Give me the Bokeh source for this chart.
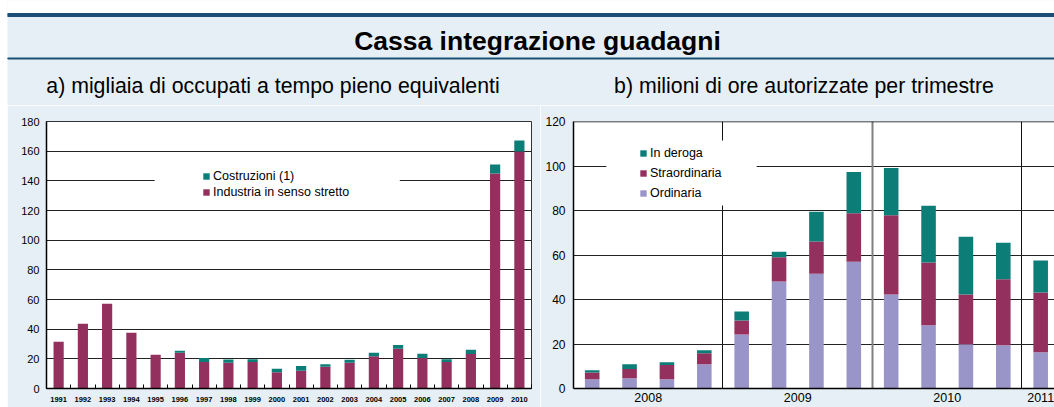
from bokeh.plotting import figure
from bokeh.layouts import column, row
from bokeh.models import (Range1d, FixedTicker, Legend, LegendItem, BoxAnnotation,
                          Grid, Span, ColumnDataSource, Spacer)
from bokeh.core.properties import value
from bokeh.embed import file_html
from bokeh.resources import INLINE

# ---------------- data ----------------
years = ["1991", "1992", "1993", "1994", "1995", "1996", "1997", "1998", "1999", "2000",
         "2001", "2002", "2003", "2004", "2005", "2006", "2007", "2008", "2009", "2010"]
industria = [31.5, 43.7, 57.2, 37.6, 22.7, 24.1, 17.8, 17.3, 17.8, 11.0,
             11.9, 14.6, 17.3, 21.8, 26.8, 20.5, 17.8, 23.2, 144.9, 159.8]
costruzioni = [0.0, 0.0, 0.0, 0.0, 0.0, 1.3, 2.7, 2.3, 2.0, 2.3,
               3.2, 1.8, 2.1, 2.3, 2.5, 2.9, 2.0, 2.9, 6.1, 7.4]

quarters = ["2008Q1", "2008Q2", "2008Q3", "2008Q4", "2009Q1", "2009Q2", "2009Q3", "2009Q4",
            "2010Q1", "2010Q2", "2010Q3", "2010Q4", "2011Q1"]
ordinaria = [4.2, 4.6, 4.2, 10.9, 24.3, 48.1, 51.6, 57.0, 42.2, 28.4, 19.9, 19.4, 16.3]
straordinaria = [3.0, 4.2, 6.4, 4.9, 6.3, 10.9, 14.5, 21.8, 35.7, 28.2, 22.3, 29.7, 26.8]
deroga = [1.0, 2.1, 1.2, 1.4, 4.0, 2.5, 13.3, 18.5, 21.2, 25.5, 26.0, 16.4, 14.4]

title_text = "Cassa integrazione guadagni"
sub_a = "a) migliaia di occupati a tempo pieno equivalenti"
sub_b = "b) milioni di ore autorizzate per trimestre"

# ---------------- style ----------------
BG = "#e6eff6"
DARK = "#1b4e75"
MAROON = "#93305e"
TEAL = "#0d7d77"
LAV = "#9a95c8"
FONT = "Liberation Sans"

# ---------------- header ----------------
W = 1047
HH = 105
hdr = figure(width=W, height=HH, x_range=Range1d(0, W), y_range=Range1d(HH, 0),
             toolbar_location=None, output_backend="svg", min_border=0)
hdr.axis.visible = False
hdr.grid.visible = False
hdr.outline_line_color = None
hdr.background_fill_color = BG
hdr.border_fill_color = BG
hdr.quad(left=[0], right=[W], top=[0], bottom=[13], color="white")
hdr.quad(left=[0], right=[W], top=[13], bottom=[16], color=DARK)
hdr.quad(left=[0], right=[W], top=[57.5], bottom=[58.5], color=DARK)
hdr.text(x=[530], y=[40], text=[title_text], text_align="center", text_baseline="middle",
         text_font=value(FONT), text_font_style="bold", text_font_size="26.5px", text_color="black")
hdr.text(x=[265.5, 796.5], y=[85, 85], text=[sub_a, sub_b], text_align="center",
         text_baseline="middle", text_font=value(FONT), text_font_size="21.3px", text_color="black")

# ---------------- left chart ----------------
H = 302
xs_a = list(range(len(years)))
src_a = ColumnDataSource(dict(x=xs_a, industria=industria, costruzioni=costruzioni))
p1 = figure(width=533, height=H, x_range=Range1d(-0.5, len(years) - 0.5), y_range=Range1d(0, 180),
            toolbar_location=None, output_backend="svg",
            min_border_left=39, min_border_right=9, min_border_top=16, min_border_bottom=19)
p1.background_fill_color = "white"
p1.border_fill_color = BG
p1.outline_line_color = "#333333"
r1 = p1.vbar_stack(["industria", "costruzioni"], x="x", width=0.42, color=[MAROON, TEAL],
                   source=src_a, line_color=None)
p1.xaxis.ticker = FixedTicker(ticks=xs_a, minor_ticks=[i - 0.5 for i in range(len(years) + 1)])
p1.xaxis.major_label_overrides = {i: y for i, y in enumerate(years)}
p1.xaxis.major_tick_in = 0
p1.xaxis.major_tick_out = 0
p1.xaxis.minor_tick_in = 4
p1.xaxis.minor_tick_out = 0
p1.xaxis.minor_tick_line_color = "black"
p1.xaxis.major_label_text_font_size = "7.5px"
p1.xaxis.major_label_text_font_style = "bold"
p1.xaxis.major_label_standoff = 8
p1.yaxis.ticker = FixedTicker(ticks=list(range(0, 181, 20)))
p1.yaxis.major_tick_in = 0
p1.yaxis.major_tick_out = 0
p1.yaxis.minor_tick_in = 0
p1.yaxis.minor_tick_out = 0
p1.yaxis.major_label_text_font_size = "11px"
p1.yaxis.major_label_standoff = 7
for ax in [p1.xaxis[0], p1.yaxis[0]]:
    ax.axis_line_color = "black"
    ax.axis_line_width = 1.5
    ax.major_label_text_font = FONT
    ax.major_label_text_color = "black"
p1.xgrid.visible = False
p1.ygrid.ticker = FixedTicker(ticks=list(range(20, 180, 20)))
p1.ygrid.grid_line_color = "#222222"
p1.ygrid.grid_line_width = 1
p1.add_layout(BoxAnnotation(left=3.96, right=14.07, bottom=124, top=151, fill_color="white",
                            fill_alpha=1, line_alpha=0))
leg1 = Legend(items=[LegendItem(label="Costruzioni (1)", renderers=[r1[1]]),
                     LegendItem(label="Industria in senso stretto", renderers=[r1[0]])],
              location=(156, 189), background_fill_alpha=0, border_line_color=None,
              padding=0, margin=0, spacing=1, glyph_width=8, glyph_height=8,
              label_height=15, label_standoff=3, label_text_font=FONT,
              label_text_font_size="12.5px", label_text_color="black")
p1.add_layout(leg1)

# ---------------- right chart ----------------
xs_b = list(range(len(quarters)))
src_b = ColumnDataSource(dict(x=xs_b, ordinaria=ordinaria, straordinaria=straordinaria, deroga=deroga))
p2 = figure(width=514, height=H, x_range=Range1d(-0.5, 12.37), y_range=Range1d(0, 120),
            toolbar_location=None, output_backend="svg",
            min_border_left=33, min_border_right=0, min_border_top=16, min_border_bottom=19)
p2.background_fill_color = "white"
p2.border_fill_color = BG
p2.outline_line_color = None
r2 = p2.vbar_stack(["ordinaria", "straordinaria", "deroga"], x="x", width=0.39,
                   color=[LAV, MAROON, TEAL], source=src_b, line_color=None)
year_names = sorted(set(q[:4] for q in quarters))
year_pos = [sum(i for i, q in enumerate(quarters) if q[:4] == yn) /
            len([q for q in quarters if q[:4] == yn]) for yn in year_names]
p2.xaxis.ticker = FixedTicker(ticks=year_pos)
p2.xaxis.major_label_overrides = {pos: yn for pos, yn in zip(year_pos, year_names)}
p2.xaxis.major_tick_in = 0
p2.xaxis.major_tick_out = 0
p2.xaxis.minor_tick_in = 0
p2.xaxis.minor_tick_out = 0
p2.xaxis.major_label_text_font_size = "12.5px"
p2.xaxis.major_label_standoff = 4
p2.yaxis.ticker = FixedTicker(ticks=list(range(0, 121, 20)))
p2.yaxis.major_tick_in = 0
p2.yaxis.major_tick_out = 0
p2.yaxis.minor_tick_in = 0
p2.yaxis.minor_tick_out = 0
p2.yaxis.major_label_text_font_size = "12px"
p2.yaxis.major_label_standoff = 8
for ax in [p2.xaxis[0], p2.yaxis[0]]:
    ax.axis_line_color = "black"
    ax.axis_line_width = 1.5
    ax.major_label_text_font = FONT
    ax.major_label_text_color = "black"
p2.xgrid.ticker = FixedTicker(ticks=[3.5, 11.5])
p2.xgrid.grid_line_color = "#111111"
p2.xgrid.grid_line_width = 1
p2.add_layout(Grid(dimension=0, ticker=FixedTicker(ticks=[7.5]), grid_line_color="#808080",
                   grid_line_width=2))
p2.ygrid.ticker = FixedTicker(ticks=list(range(20, 120, 20)))
p2.ygrid.grid_line_color = "#222222"
p2.ygrid.grid_line_width = 1
p2.add_layout(Span(location=120, dimension="width", line_color="black", line_width=1.5))
p2.add_layout(BoxAnnotation(left=0.38, right=4.40, bottom=82.2, top=111.5, fill_color="white",
                            fill_alpha=1, line_alpha=0))
leg2 = Legend(items=[LegendItem(label="In deroga", renderers=[r2[2]]),
                     LegendItem(label="Straordinaria", renderers=[r2[1]]),
                     LegendItem(label="Ordinaria", renderers=[r2[0]])],
              location=(66, 188), background_fill_alpha=0, border_line_color=None,
              padding=0, margin=0, spacing=5, glyph_width=8, glyph_height=8,
              label_height=15, label_standoff=3, label_text_font=FONT,
              label_text_font_size="12.5px", label_text_color="black")
p2.add_layout(leg2)

layout = column(row(Spacer(width=7, height=HH), hdr, spacing=0),
                row(Spacer(width=7, height=H), p1, p2, spacing=0), spacing=0)
open("out.html", "w").write(file_html(layout, INLINE))
